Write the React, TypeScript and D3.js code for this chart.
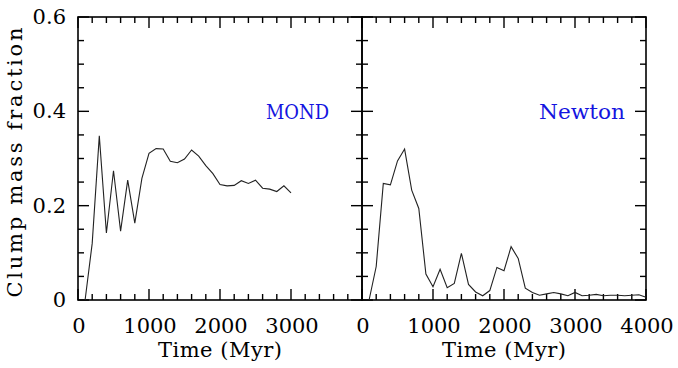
import React from "react";
import * as d3 from "d3";

// MOND run
const mondTime = [100, 200, 300, 400, 500, 600, 700, 800, 900, 1000, 1100, 1200, 1300, 1400, 1500, 1600, 1700, 1800, 1900, 2000, 2100, 2200, 2300, 2400, 2500, 2600, 2700, 2800, 2900, 3000];
const mondFrac = [0, 0.12, 0.348, 0.142, 0.274, 0.146, 0.254, 0.163, 0.258, 0.311, 0.321, 0.32, 0.294, 0.291, 0.299, 0.318, 0.305, 0.285, 0.268, 0.245, 0.242, 0.243, 0.253, 0.247, 0.254, 0.237, 0.235, 0.23, 0.242, 0.227];

// Newton run
const newtonTime = [100, 200, 300, 400, 500, 600, 700, 800, 900, 1000, 1100, 1200, 1300, 1400, 1500, 1600, 1700, 1800, 1900, 2000, 2100, 2200, 2300, 2400, 2500, 2600, 2700, 2800, 2900, 3000, 3100, 3200, 3300, 3400, 3500, 3600, 3700, 3800, 3900, 4000];
const newtonFrac = [0, 0.071, 0.247, 0.244, 0.295, 0.32, 0.233, 0.194, 0.055, 0.028, 0.065, 0.026, 0.035, 0.099, 0.033, 0.017, 0.009, 0.02, 0.069, 0.062, 0.113, 0.088, 0.025, 0.016, 0.01, 0.013, 0.016, 0.013, 0.009, 0.016, 0.009, 0.01, 0.012, 0.009, 0.01, 0.01, 0.009, 0.01, 0.011, 0.006];

const yTickLabels = [0, 0.2, 0.4, 0.6];
const leftXLabels = [0, 1000, 2000, 3000];
const rightXLabels = [0, 1000, 2000, 3000, 4000];

const width = 678;
const height = 368;
const top = 17;
const bottom = 300;
const font = "'DejaVu Serif', serif";

const yScale = d3.scaleLinear().domain([0, 0.6]).range([bottom, top]);

type PanelProps = {
  x0: number;
  x1: number;
  time: number[];
  frac: number[];
  xLabels: number[];
  name: string;
  nameT: number;
  nameLen: number;
};

const Panel = ({ x0, x1, time, frac, xLabels, name, nameT, nameLen }: PanelProps) => {
  const x = d3.scaleLinear().domain([0, 4000]).range([x0, x1]);
  const line = d3
    .line<number>()
    .x((_, i) => x(time[i]))
    .y((d) => yScale(d));

  const xMinor = d3.range(0, 4001, 200);
  const yMinor = d3.range(0, 0.6001, 0.05);

  return (
    <g>
      {/* ticks on every side, pointing in */}
      {xMinor.map((t) => {
        const major = Math.round(t) % 1000 === 0;
        const len = major ? 11 : 6;
        return (
          <g key={"x" + t} stroke="#000" strokeWidth={1.4}>
            <line x1={x(t)} x2={x(t)} y1={bottom} y2={bottom - len} />
            <line x1={x(t)} x2={x(t)} y1={top} y2={top + len} />
          </g>
        );
      })}
      {yMinor.map((v, i) => {
        const major = i % 4 === 0;
        const len = major ? 11 : 6;
        return (
          <g key={"y" + i} stroke="#000" strokeWidth={1.4}>
            <line x1={x0} x2={x0 + len} y1={yScale(v)} y2={yScale(v)} />
            <line x1={x1} x2={x1 - len} y1={yScale(v)} y2={yScale(v)} />
          </g>
        );
      })}
      <rect x={x0} y={top} width={x1 - x0} height={bottom - top} fill="none" stroke="#000" strokeWidth={1.6} />

      <path d={line(frac) || ""} fill="none" stroke="#222" strokeWidth={1.1} />

      {xLabels.map((t) => (
        <text key={"xl" + t} x={x(t) + 1} y={333} textAnchor="middle" fontSize={21} fontFamily={font} fill="#000">
          {t}
        </text>
      ))}
      <text x={(x0 + x1) / 2} y={357} textAnchor="middle" fontSize={21} fontFamily={font} fill="#000" textLength={124} lengthAdjust="spacing">
        Time (Myr)
      </text>
      <text x={x(nameT)} y={yScale(0.384)} fontSize={20} fontFamily={font} fill="#1414e0" textLength={nameLen} lengthAdjust="spacingAndGlyphs">
        {name}
      </text>
    </g>
  );
};

const App = () => {
  return (
    <svg width={width} height={height} style={{ position: "absolute", left: 0, top: 0, background: "#fff" }}>
      <rect width={width} height={height} fill="#fff" />
      {yTickLabels.map((v) => (
        <text key={"yl" + v} x={66} y={yScale(v) + 7} textAnchor="end" fontSize={21} fontFamily={font} fill="#000">
          {v}
        </text>
      ))}
      <text
        transform={`translate(22,${(top + bottom) / 2 + 4}) rotate(-90)`}
        textAnchor="middle"
        fontSize={21}
        fontFamily={font}
        fill="#000"
        textLength={270}
        lengthAdjust="spacing"
      >
        Clump mass fraction
      </text>
      <Panel x0={78} x1={362} time={mondTime} frac={mondFrac} xLabels={leftXLabels} name="MOND" nameT={2648} nameLen={63} />
      <Panel x0={362} x1={646} time={newtonTime} frac={newtonFrac} xLabels={rightXLabels} name="Newton" nameT={2493} nameLen={86} />
    </svg>
  );
};

export default App;
